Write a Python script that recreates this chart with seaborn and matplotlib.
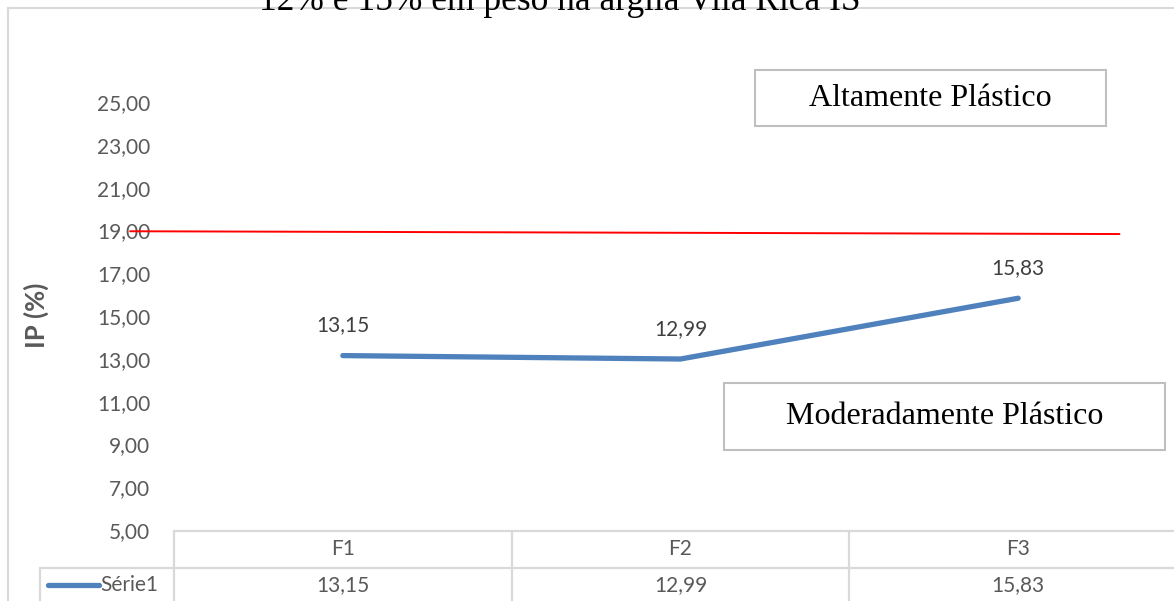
import matplotlib
matplotlib.use("Agg")
import matplotlib.pyplot as plt
import matplotlib.transforms as mtransforms
from matplotlib.lines import Line2D
from matplotlib.patches import Rectangle
import seaborn as sns
import pandas as pd

# Índice de plasticidade por formulação
categorias = ["F1", "F2", "F3"]
ip_valores = [13.15, 12.99, 15.83]
serie_nome = "Série1"

# Limite entre moderadamente e altamente plástico (traçado à mão no original)
limite_x = [-0.63, 2.30]
limite_y = [18.96, 18.83]

y_ticks = [5, 7, 9, 11, 13, 15, 17, 19, 21, 23, 25]
titulo = "12% e 15% em peso na argila Vila Rica IS"
rotulo_y = "IP (%)"
caixa_alta = "Altamente Plástico"
caixa_moderada = "Moderadamente Plástico"

sns.set_theme(style="white")
plt.rcParams["font.family"] = ["Lato", "DejaVu Sans"]

W, H = 1174, 601
fig = plt.figure(figsize=(W / 100, H / 100), dpi=100)
fig.patch.set_facecolor("white")


def fx(px):
    return px / W


def fy(py):
    return 1 - py / H


GRAY_TXT = "#595959"
GRID = "#d9d9d9"
BLUE = "#4F81BD"

# plot area
ax_left, ax_right, ax_bottom, ax_top = 174, 1187, 530, 59.2
ax = fig.add_axes([fx(ax_left), fy(ax_bottom), fx(ax_right - ax_left),
                   (ax_bottom - ax_top) / H])
ax.set_facecolor("none")

df = pd.DataFrame({"pos": range(len(categorias)), "ip": ip_valores})
sns.lineplot(data=df, x="pos", y="ip", ax=ax, color=BLUE, linewidth=3.8,
             solid_capstyle="round", legend=False)

ax.plot(limite_x, limite_y, color="#FF0000", linewidth=1.4, clip_on=False)

ax.set_xlim(-0.5, 2.5)
ax.set_ylim(5, 27)
ax.set_yticks(y_ticks)
ax.set_yticklabels([f"{t:.2f}".replace(".", ",") for t in y_ticks],
                   color=GRAY_TXT, fontsize=15)
ax.tick_params(axis="y", length=0, pad=17)
ax.set_xticks([])
ax.set_xlabel("")
ax.set_ylabel("")
for s in ax.spines.values():
    s.set_visible(False)

# data labels
for i, v in enumerate(ip_valores):
    ax.annotate(f"{v:.2f}".replace(".", ","), (i, v), xytext=(0, 21.6),
                textcoords="offset points", ha="center", va="center",
                color="#404040", fontsize=15)

# y axis title
fig.text(fx(36), fy(315), rotulo_y, rotation=90, ha="center", va="center",
         fontsize=18.5, fontweight="bold", color=GRAY_TXT)

# data table below the plot
tb = mtransforms.blended_transform_factory(ax.transData, fig.transFigure)
row1_top, row1_bot, row2_bot = 530.5, 567.5, 604
fig.add_artist(Line2D([fx(ax_left), 1.0], [fy(row1_top)] * 2, color=GRID, lw=1.6))
fig.add_artist(Line2D([fx(40), 1.0], [fy(row1_bot)] * 2, color=GRID, lw=1.6))
fig.add_artist(Line2D([fx(ax_left)] * 2, [fy(row1_top), fy(row2_bot)], color=GRID, lw=1.6))
fig.add_artist(Line2D([fx(40)] * 2, [fy(row1_bot), fy(row2_bot)], color=GRID, lw=1.6))
for b in [0.5, 1.5]:
    ax.add_line(Line2D([b, b], [fy(row1_top), fy(row2_bot)], transform=tb,
                       color=GRID, lw=1.6, clip_on=False))
for i, (c, v) in enumerate(zip(categorias, ip_valores)):
    ax.text(i, fy((row1_top + row1_bot) / 2), c, transform=tb, ha="center",
            va="center", color=GRAY_TXT, fontsize=15, clip_on=False)
    ax.text(i, fy((row1_bot + row2_bot) / 2 - 1), f"{v:.2f}".replace(".", ","),
            transform=tb, ha="center", va="center", color=GRAY_TXT,
            fontsize=15, clip_on=False)

# legend key inside the table
fig.add_artist(Line2D([fx(48), fx(99)], [fy(585)] * 2, color=BLUE, lw=3.8,
                      solid_capstyle="round"))
fig.text(fx(100), fy(585), serie_nome, ha="left", va="center",
         color=GRAY_TXT, fontsize=15)

# chart border (top and left edges)
fig.add_artist(Line2D([fx(8), 1.0], [fy(8)] * 2, color=GRID, lw=1.5))
fig.add_artist(Line2D([fx(8)] * 2, [fy(8), 0.0], color=GRID, lw=1.5))

# title, partially outside the canvas
fig.text(fx(560), fy(10), titulo, ha="center", va="baseline",
         fontsize=25.5, color="black", family=["Liberation Serif"])

# annotation boxes
for (x0, y0, x1, y1, txt) in [(755, 70, 1106, 126, caixa_alta),
                              (724, 383, 1165, 450, caixa_moderada)]:
    fig.add_artist(Rectangle((fx(x0), fy(y1)), fx(x1 - x0), (y1 - y0) / H,
                             transform=fig.transFigure, facecolor="white",
                             edgecolor="#bfbfbf", lw=1.5))
    fig.text(fx((x0 + x1) / 2), fy((y0 + y1) / 2), txt, ha="center",
             va="center", fontsize=23, color="black",
             family=["Liberation Serif"])

fig.savefig("out.png", dpi=100)
